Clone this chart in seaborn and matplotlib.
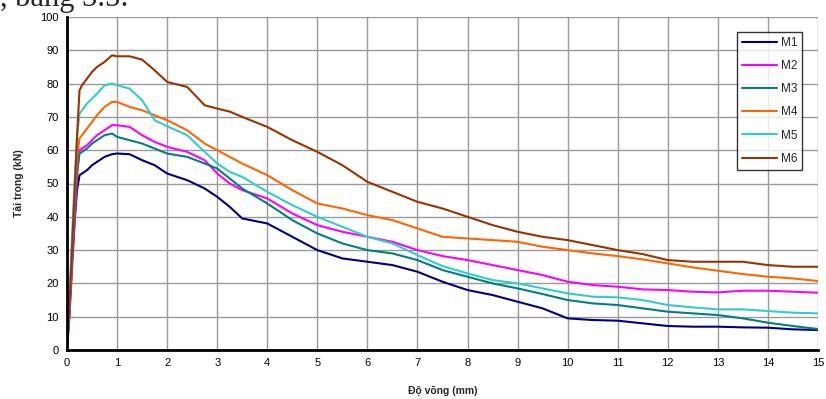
import matplotlib
matplotlib.use("Agg")
import matplotlib.pyplot as plt
import seaborn as sns
import pandas as pd

# ---- data ----
deflection = [0, 0.05, 0.1, 0.15, 0.2, 0.25, 0.3, 0.4, 0.5, 0.6, 0.75, 0.9, 1.0,
              1.25, 1.5, 1.75, 2.0, 2.4, 2.75, 3.0, 3.25, 3.5, 4, 4.5, 5, 5.5, 6,
              6.5, 7, 7.5, 8, 8.5, 9, 9.5, 10, 10.5, 11, 11.5, 12, 12.5, 13, 13.5,
              14, 14.5, 15]

m1 = [0, 12, 26, 38, 48, 52.5, 53, 54, 55.5, 56.5, 58, 58.8, 59,
      58.8, 57, 55.5, 53, 51, 48.5, 46, 43, 39.5, 38, 34, 30, 27.5, 26.5,
      25.5, 23.5, 20.5, 18, 16.5, 14.5, 12.5, 9.5, 9, 8.8, 8, 7.2, 7, 7, 6.8,
      6.7, 6.2, 6]
m2 = [0, 10, 24, 38, 52, 60, 60.5, 61.5, 63, 64.5, 66, 67.5, 67.5,
      67, 64.5, 62.5, 61, 59.5, 57, 53, 50, 48, 45.5, 41, 37.5, 35.5, 34,
      32.5, 30, 28.2, 27, 25.5, 24, 22.5, 20.5, 19.5, 19, 18.2, 18, 17.5, 17.3, 17.8,
      17.8, 17.5, 17.2]
m3 = [0, 12, 27, 41, 54, 59, 59.5, 60.5, 62, 63, 64.5, 65, 64,
      63, 62, 60.5, 59, 58, 56, 54.5, 51.5, 48.5, 44, 39, 35, 32, 30,
      29, 27, 24, 22, 20, 18.5, 16.8, 15, 14, 13.5, 12.5, 11.5, 11, 10.5, 9.5,
      8.2, 7.2, 6.3]
m4 = [0, 14, 30, 45, 58, 63.5, 64.5, 66.5, 68.5, 70.5, 73, 74.5, 74.5,
      73, 72, 70.5, 69, 66, 62, 60, 58, 56, 52.5, 48, 44, 42.5, 40.5,
      39, 36.5, 34, 33.5, 33, 32.5, 31, 30, 29, 28.2, 27.2, 26, 24.8, 23.8, 22.8,
      22, 21.5, 20.7]
m5 = [0, 16, 34, 50, 64, 71, 72, 74, 75.5, 77, 79.5, 80, 79.5,
      78.5, 75, 69, 67.2, 64.5, 59.5, 56, 53.5, 52, 47.5, 43.5, 40, 37, 34,
      32, 28.5, 25.2, 23, 21, 20, 18.5, 17, 16, 15.8, 15, 13.5, 12.8, 12.2, 12.2,
      11.7, 11.2, 11]
m6 = [0, 14, 30, 47, 64, 78, 79.5, 81.5, 83.5, 85, 86.5, 88.5, 88.2,
      88.2, 87.2, 84, 80.5, 79, 73.5, 72.5, 71.6, 70, 67, 63, 59.5, 55.5, 50.5,
      47.5, 44.5, 42.5, 40, 37.5, 35.5, 34, 33, 31.5, 30, 28.8, 27, 26.5, 26.5, 26.5,
      25.5, 25, 25]

series_names = ["M1", "M2", "M3", "M4", "M5", "M6"]
series_values = [m1, m2, m3, m4, m5, m6]
series_colors = ["#000080", "#FF00FF", "#008080", "#FF6600", "#33CCCC", "#993300"]

x_ticks = list(range(0, 16))
y_ticks = list(range(0, 101, 10))

# ---- build long table ----
rows = []
for name, vals in zip(series_names, series_values):
    for xv, yv in zip(deflection, vals):
        rows.append({"x": xv, "y": yv, "series": name})
df = pd.DataFrame(rows)

sns.set_style("white")
plt.rcParams["font.family"] = ["Liberation Sans", "DejaVu Sans"]

fig = plt.figure(figsize=(8.26, 3.99), dpi=100)
ax = fig.add_axes([67 / 826, 1 - 350 / 399, 751 / 826, 333 / 399])

sns.lineplot(data=df, x="x", y="y", hue="series",
             palette=dict(zip(series_names, series_colors)),
             linewidth=1.5, ax=ax, sort=False, estimator=None)

ax.set_xlim(0, 15)
ax.set_ylim(0, 100)
ax.set_xticks(x_ticks)
ax.set_yticks(y_ticks)
ax.tick_params(axis="both", labelsize=8, length=4, width=1.5, colors="black",
               direction="out", pad=2)
ax.grid(True, color="#9a9a9a", linewidth=1.0)
ax.set_axisbelow(True)

for side in ["top", "right"]:
    ax.spines[side].set_visible(False)
for side in ["left", "bottom"]:
    ax.spines[side].set_color("black")
    ax.spines[side].set_linewidth(2)

ax.set_xlabel("Độ võng (mm)", fontsize=7.5, fontweight="bold", labelpad=13)
ax.set_ylabel("Tải trọng (kN)", fontsize=7.5, fontweight="bold", labelpad=12)

leg = ax.legend(loc="upper right", bbox_to_anchor=(0.979, 0.955), borderaxespad=0,
                fontsize=8.5, handlelength=3.0, handletextpad=0.3,
                labelspacing=0.95, frameon=True, fancybox=False, title=None)
leg.get_frame().set_edgecolor("black")
leg.get_frame().set_linewidth(1.0)
for line in leg.get_lines():
    line.set_linewidth(1.5)

fig.text(0.0, 1.0 - 6 / 399, ", bảng 3.5:", fontsize=22,
         family=["Liberation Serif", "DejaVu Serif"], va="baseline", ha="left")

fig.savefig("out.png", dpi=100)
